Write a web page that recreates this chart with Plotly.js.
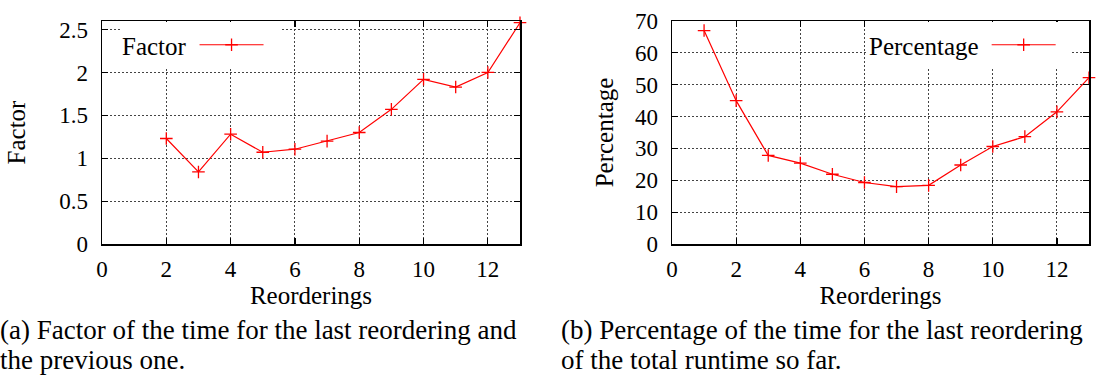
<!DOCTYPE html>
<html>
<head>
<meta charset="utf-8">
<script src="https://cdn.plot.ly/plotly-3.0.1.min.js"></script>
<style>html,body{margin:0;padding:0;background:#fff}#chart{width:1105px;height:375px}</style>
</head>
<body>
<div id="chart"></div>
<script>
// Data
const factorX = [2, 3, 4, 5, 6, 7, 8, 9, 10, 11, 12, 13];
const factorY = [1.23, 0.84, 1.28, 1.07, 1.105, 1.20, 1.30, 1.57, 1.92, 1.83, 2.00, 2.58];
const percentX = [1, 2, 3, 4, 5, 6, 7, 8, 9, 10, 11, 12, 13];
const percentY = [67.0, 45.0, 27.8, 25.4, 21.9, 19.3, 18.0, 18.4, 24.8, 30.6, 33.7, 41.5, 52.2];
const xTicks = [0, 2, 4, 6, 8, 10, 12];
const factorTicks = [0, 0.5, 1, 1.5, 2, 2.5];
const factorTickText = ['0', '0.5', '1', '1.5', '2', '2.5'];
const percentTicks = [0, 10, 20, 30, 40, 50, 60, 70];
const captionA = ['(a) Factor of the time for the last reordering and', 'the previous one.'];
const captionB = ['(b) Percentage of the time for the last reordering', 'of the total runtime so far.'];

const W = 1105, H = 375;
const FONT = 'Liberation Serif';
const red = '#ff0000';

function px(x) { return x / W; }
function py(y) { return 1 - y / H; }

const traceStyle = {
  mode: 'lines+markers',
  line: { color: red, width: 1.2 },
  marker: { symbol: 'cross-thin', size: 9, line: { color: red, width: 1.3 }, color: red },
  cliponaxis: false,
  hoverinfo: 'x+y'
};

const traces = [
  Object.assign({ x: factorX, y: factorY, xaxis: 'x', yaxis: 'y', name: ' ', legend: 'legend' }, traceStyle),
  Object.assign({ x: percentX, y: percentY, xaxis: 'x2', yaxis: 'y2', name: ' ', legend: 'legend2' }, traceStyle)
];

function axisBase() {
  return {
    showline: true, linecolor: '#000', linewidth: 1.5, mirror: 'ticks',
    ticks: 'inside', ticklen: 6, tickwidth: 1.2, tickcolor: '#000',
    showgrid: true, gridcolor: '#444', gridwidth: 1, griddash: '2px,2px',
    zeroline: false, tickfont: { family: FONT, size: 23, color: '#000' },
    fixedrange: true
  };
}
const titleFont = { family: FONT, size: 25, color: '#000' };

const xa1 = Object.assign(axisBase(), {
  domain: [px(102), px(520)], range: [0, 13], tickvals: xTicks, anchor: 'y',
  title: { text: 'Reorderings', font: titleFont, standoff: 2 },
  ticklabelstandoff: 4
});
const ya1 = Object.assign(axisBase(), {
  domain: [py(244), py(21)], range: [0, 2.6], tickvals: factorTicks, ticktext: factorTickText, anchor: 'x',
  title: { text: 'Factor', font: titleFont, standoff: 26 },
  ticklabelstandoff: 8
});
const xa2 = Object.assign(axisBase(), {
  domain: [px(672), px(1089)], range: [0, 13], tickvals: xTicks, anchor: 'y2',
  title: { text: 'Reorderings', font: titleFont, standoff: 2 },
  ticklabelstandoff: 4
});
const ya2 = Object.assign(axisBase(), {
  domain: [py(244), py(21)], range: [0, 70], tickvals: percentTicks, anchor: 'x2',
  title: { text: 'Percentage', font: titleFont, standoff: 14 },
  ticklabelstandoff: 8
});

function legendBase(title, x) {
  return {
    title: { text: title, side: 'left', font: titleFont },
    x: px(x), y: py(22), xanchor: 'left', yanchor: 'top',
    bgcolor: '#fff', borderwidth: 0, itemwidth: 64,
    font: titleFont,
    orientation: 'v', itemclick: false, itemdoubleclick: false
  };
}

const annotations = [];
[[captionA, -2], [captionB, 559]].forEach(function (c) {
  c[0].forEach(function (line, i) {
    annotations.push({
      text: line, xref: 'paper', yref: 'paper', x: px(c[1]), y: py(i === 0 ? 330 : 360),
      xanchor: 'left', yanchor: 'middle', showarrow: false,
      font: { family: FONT, size: 27, color: '#000' }
    });
  });
});

const layout = {
  width: W, height: H,
  margin: { l: 0, r: 0, t: 0, b: 0 },
  paper_bgcolor: '#fff', plot_bgcolor: '#fff',
  showlegend: true,
  xaxis: xa1, yaxis: ya1, xaxis2: xa2, yaxis2: ya2,
  legend: legendBase('Factor', 120),
  legend2: legendBase('Percentage', 867),
  annotations: annotations
};

Plotly.newPlot('chart', traces, layout, { staticPlot: true, displayModeBar: false });
</script>
</body>
</html>
